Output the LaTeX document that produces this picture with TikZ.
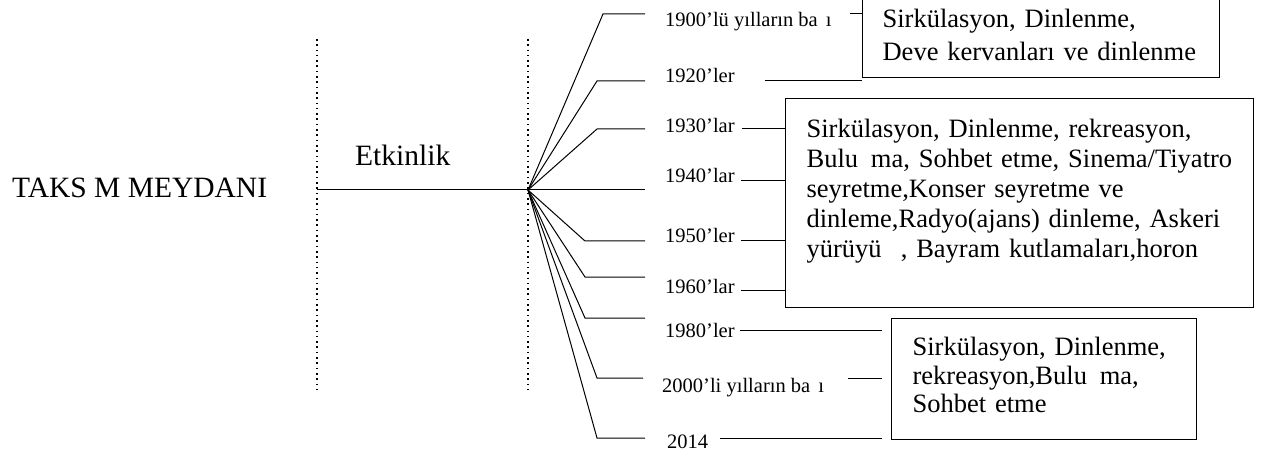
\documentclass[tikz,border=0pt]{standalone}
\usepackage{fontspec}
\setmainfont{Liberation Serif}
\usepackage{tikz}

\begin{document}
\begin{tikzpicture}[
  x=1pt, y=-1pt,
  title/.style={anchor=base west, inner sep=0pt, font=\fontsize{29.5}{34}\selectfont},
  year/.style={anchor=base west, inner sep=0pt, font=\fontsize{20.5}{24}\selectfont},
  box/.style={draw, line width=1.2pt, anchor=north west, align=left,
    inner ysep=0pt, inner xsep=21pt, minimum height=0pt},
  link/.style={line width=1pt},
  sep/.style={line width=1.6pt, dash pattern=on 1.6pt off 3.7pt},
]
\useasboundingbox (0,0) rectangle (1269,457);

\node[title] (taksim) at (12,198) {TAKS M MEYDANI};
\node[title] (etk) at (355,166) {Etkinlik};

\draw[sep] (317,39) -- (317,392);
\draw[sep] (528,39) -- (528,392);

\coordinate (lsep) at (317,190);
\coordinate (hub) at (528,190);
\draw[link] (lsep) -- (hub);

% boxes
\node[box, text width=317pt, inner xsep=20pt, text height=29pt, text depth=50pt,
  font=\fontsize{26.5}{33}\selectfont] (box1) at (862,-2)
  {Sirkülasyon, Dinlenme,\\Deve kervanları ve dinlenme};
\node[box, text width=426pt, text height=39pt, text depth=170pt,
  font=\fontsize{26.5}{30}\selectfont] (box2) at (785,98)
  {Sirkülasyon, Dinlenme, rekreasyon,\\
   Bulu \hspace{0.15em}ma, Sohbet etme, Sinema/Tiyatro\\
   seyretme,Konser seyretme ve\\
   dinleme,Radyo(ajans) dinleme, Askeri\\
   yürüyü\hspace{0.39em} , Bayram kutlamaları,horon};
\node[box, text width=263pt, text height=37pt, text depth=84pt,
  font=\fontsize{26.5}{28.5}\selectfont] (box3) at (891,318)
  {Sirkülasyon, Dinlenme,\\rekreasyon,Bulu \hspace{0.15em}ma,\\Sohbet etme};

% years
\node[year] (y1900) at (665,27) {1900’lü yılların ba \hspace{0.15em}ı};
\coordinate (e1900) at (645,14);
\coordinate (s1900) at (850,14);
\draw[link] (hub) -- ([xshift=-42pt]e1900) -- (e1900);
\draw[link] (s1900) -- (s1900 -| box1.west);

\node[year] (y1920) at (665,83) {1920’ler};
\coordinate (e1920) at (645,81);
\coordinate (s1920) at (765,81);
\draw[link] (hub) -- ([xshift=-48pt]e1920) -- (e1920);
\draw[link] (s1920) -- (s1920 -| box1.west);

\node[year] (y1930) at (665,133) {1930’lar};
\coordinate (e1930) at (645,129);
\coordinate (s1930) at (742,129);
\draw[link] (hub) -- ([xshift=-48pt]e1930) -- (e1930);
\draw[link] (s1930) -- (s1930 -| box2.west);

\node[year] (y1940) at (665,183) {1940’lar};
\coordinate (e1940) at (645,190);
\coordinate (s1940) at (741,181);
\draw[link] (hub) -- (e1940);
\draw[link] (s1940) -- (s1940 -| box2.west);

\node[year] (y1950) at (665,243) {1950’ler};
\coordinate (e1950) at (645,241);
\coordinate (s1950) at (741,241);
\draw[link] (hub) -- ([xshift=-60pt]e1950) -- (e1950);
\draw[link] (s1950) -- (s1950 -| box2.west);

\node[year] (y1960) at (665,293) {1960’lar};
\coordinate (e1960) at (645,277);
\coordinate (s1960) at (741,290);
\draw[link] (hub) -- ([xshift=-60pt]e1960) -- (e1960);
\draw[link] (s1960) -- (s1960 -| box2.west);

\node[year] (y1980) at (665,337) {1980’ler};
\coordinate (e1980) at (645,318);
\coordinate (s1980) at (740,330);
\draw[link] (hub) -- ([xshift=-60pt]e1980) -- (e1980);
\draw[link, shorten >=9pt] (s1980) -- (s1980 -| box3.west);

\node[year] (y2000) at (662,392) {2000’li yılların ba \hspace{0.15em}ı};
\coordinate (e2000) at (643,378);
\coordinate (s2000) at (848,378);
\draw[link] (hub) -- ([xshift=-46pt]e2000) -- (e2000);
\draw[link, shorten >=9pt] (s2000) -- (s2000 -| box3.west);

\node[year] (y2014) at (667,448) {2014};
\coordinate (e2014) at (645,438);
\coordinate (s2014) at (720,438);
\draw[link] (hub) -- ([xshift=-48pt]e2014) -- (e2014);
\draw[link, shorten >=9pt] (s2014) -- (s2014 -| box3.west);

\end{tikzpicture}
\end{document}
